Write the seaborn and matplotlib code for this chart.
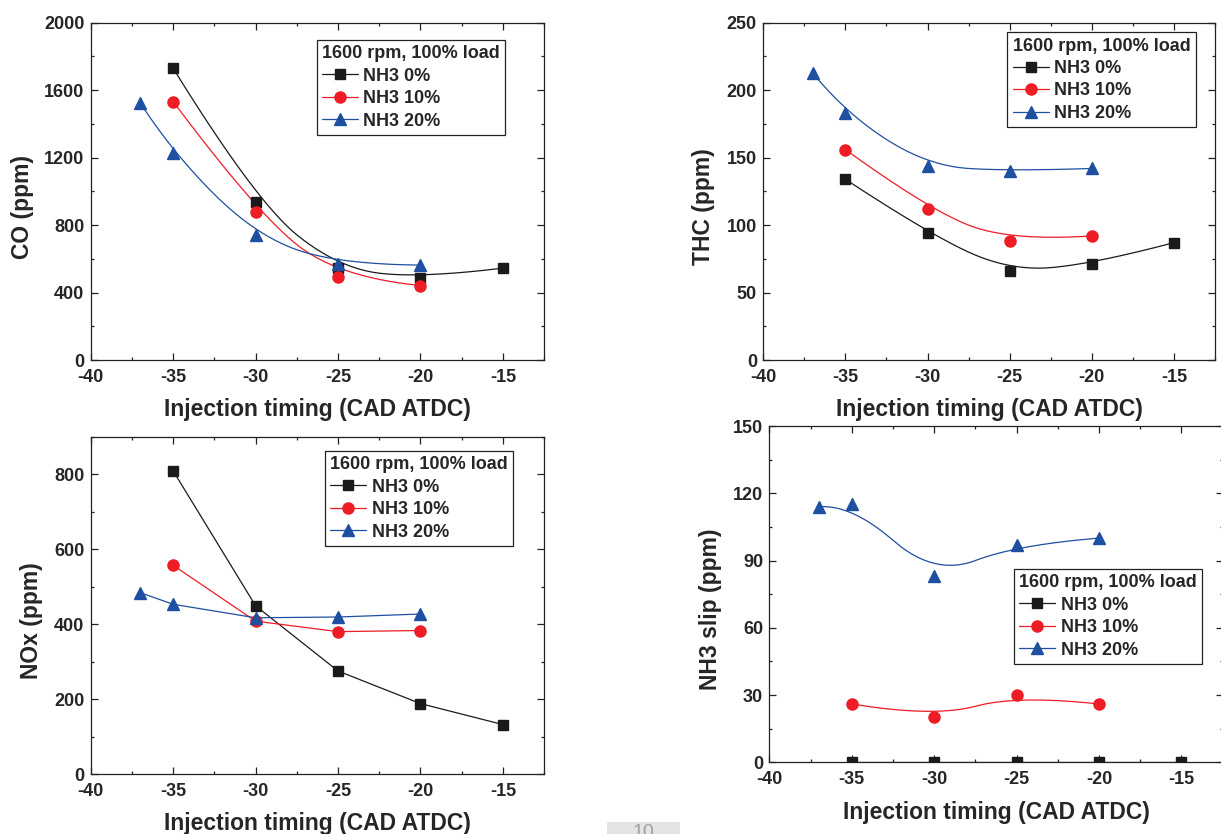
import numpy as np
import matplotlib
matplotlib.use("Agg")
import matplotlib.pyplot as plt
import matplotlib.font_manager as fm
from matplotlib.lines import Line2D
from matplotlib.patches import Rectangle
from matplotlib.ticker import MultipleLocator
import seaborn as sns

# injection timing (CAD ATDC) per series
x_0 = [-35, -30, -25, -20, -15]
x_10 = [-35, -30, -25, -20]
x_20 = [-37, -35, -30, -25, -20]

series_names = ["NH3 0%", "NH3 10%", "NH3 20%"]

co_0 = [1730, 940, 545, 485, 545]
co_10 = [1533, 879, 490, 442]
co_20 = [1525, 1225, 740, 568, 563]

thc_0 = [134, 94, 66, 71, 87]
thc_10 = [156, 112, 88, 92]
thc_20 = [213, 183, 144, 140, 142]

nox_0 = [809, 449, 275, 188, 132]
nox_10 = [557, 408, 380, 383]
nox_20 = [484, 453, 417, 419, 427]

slip_0 = [0, 0, 0, 0, 0]
slip_10 = [26, 20, 30, 26]
slip_20 = [114, 115, 83, 97, 100]

legend_title = "1600 rpm, 100% load"
x_label = "Injection timing (CAD ATDC)"

colors = ["#1a1a1a", "#ee1c25", "#1f4fa0"]
markers = ["s", "o", "^"]
msizes = [7.2, 8.0, 9.0]


def bspline(xs, ys, k=2, n=300):
    # clamped uniform B-spline using the data points as control points
    P = np.column_stack([xs, ys]).astype(float)
    m = len(P)
    k = min(k, m - 1)
    t = np.concatenate([np.zeros(k), np.linspace(0, 1, m - k + 1), np.ones(k)])
    u = np.linspace(0, 1, n)
    N = np.zeros((n, len(t) - 1))
    for i in range(len(t) - 1):
        N[:, i] = (u >= t[i]) & (u < t[i + 1])
    last = np.max(np.nonzero(t[:-1] < t[1:])[0])
    N[-1, :] = 0
    N[-1, last] = 1
    for d in range(1, k + 1):
        Nn = np.zeros((n, len(t) - 1 - d))
        for i in range(len(t) - 1 - d):
            den1 = t[i + d] - t[i]
            den2 = t[i + d + 1] - t[i + 1]
            term = np.zeros(n)
            if den1 > 0:
                term += (u - t[i]) / den1 * N[:, i]
            if den2 > 0:
                term += (t[i + d + 1] - u) / den2 * N[:, i + 1]
            Nn[:, i] = term
        N = Nn
    C = N @ P
    return C[:, 0], C[:, 1]


sns.set_style("ticks")
plt.rcParams["font.family"] = ["Liberation Sans", "DejaVu Sans"]
plt.rcParams["font.weight"] = "bold"
plt.rcParams["axes.unicode_minus"] = False

narrow = any(f.name == "Liberation Sans Narrow" for f in fm.fontManager.ttflist)
if narrow:
    label_font = dict(family=["Liberation Sans Narrow", "Liberation Sans"], size=20, weight="bold")
else:
    label_font = dict(family=["Liberation Sans", "DejaVu Sans"], size=16.5, weight="bold")

fig = plt.figure(figsize=(12.21, 8.34), dpi=100)

panels = [
    dict(rect=[0.0743, 0.5683, 0.3713, 0.4044], ylabel="CO (ppm)", ylim=(0, 2000),
         major=400, minor=200, data=[co_0, co_10, co_20], smooth=True,
         leg=(0.914, 0.949), ylx=-0.150),
    dict(rect=[0.6251, 0.5683, 0.3700, 0.4044], ylabel="THC (ppm)", ylim=(0, 250),
         major=50, minor=25, data=[thc_0, thc_10, thc_20], smooth=True,
         leg=(0.958, 0.972), ylx=-0.132),
    dict(rect=[0.0743, 0.0719, 0.3713, 0.4044], ylabel="NOx (ppm)", ylim=(0, 900),
         major=200, minor=100, data=[nox_0, nox_10, nox_20], smooth=False,
         leg=(0.932, 0.958), ylx=-0.131),
    dict(rect=[0.6301, 0.0860, 0.3713, 0.4032], ylabel="NH3 slip (ppm)", ylim=(0, 150),
         major=30, minor=15, data=[slip_0, slip_10, slip_20], smooth=True,
         leg=(0.955, 0.575), ylx=-0.129),
]

xs_all = [x_0, x_10, x_20]

for p in panels:
    ax = fig.add_axes(p["rect"])
    for i, ys in enumerate(p["data"]):
        xs = xs_all[i]
        if p["smooth"]:
            cx, cy = bspline(xs, ys)
        else:
            cx, cy = np.array(xs, float), np.array(ys, float)
        sns.lineplot(x=cx, y=cy, ax=ax, color=colors[i], lw=0.9, sort=False,
                     estimator=None, zorder=2)
        ax.plot(xs, ys, linestyle="none", marker=markers[i], ms=msizes[i],
                color=colors[i], mec=colors[i], zorder=3)

    ax.set_xlim(-40, -12.5)
    ax.set_ylim(*p["ylim"])
    ax.xaxis.set_major_locator(MultipleLocator(5))
    ax.xaxis.set_minor_locator(MultipleLocator(2.5))
    ax.yaxis.set_major_locator(MultipleLocator(p["major"]))
    ax.yaxis.set_minor_locator(MultipleLocator(p["minor"]))
    ax.tick_params(which="both", direction="in", top=True, right=True,
                   color="#222222", width=0.9)
    ax.tick_params(which="major", length=5)
    ax.tick_params(which="minor", length=2.5)
    ax.tick_params(axis="x", which="major", pad=6.5, labelsize=13)
    ax.tick_params(axis="y", which="major", pad=4.5, labelsize=13)
    for lab in ax.get_xticklabels() + ax.get_yticklabels():
        lab.set_fontweight("bold")
    for sp in ax.spines.values():
        sp.set_linewidth(0.9)
        sp.set_color("#222222")

    ax.set_xlabel(x_label, fontdict=label_font)
    ax.xaxis.label.set_va("center")
    ax.xaxis.set_label_coords(0.5, -0.148)
    ax.set_ylabel(p["ylabel"], fontdict=label_font)
    ax.yaxis.label.set_va("center")
    ax.yaxis.set_label_coords(p["ylx"], 0.455)

    handles = [Line2D([], [], color=colors[i], marker=markers[i], ms=msizes[i],
                      lw=0.9, label=series_names[i]) for i in range(3)]
    leg = ax.legend(handles=handles, title=legend_title, loc="upper right",
                    bbox_to_anchor=p["leg"], borderaxespad=0, fancybox=False,
                    framealpha=1, edgecolor="#222222", handlelength=2.0,
                    handletextpad=0.3, labelspacing=0.3, borderpad=0.3,
                    prop=dict(size=13, weight="bold"),
                    title_fontproperties=dict(size=13, weight="bold"),
                    alignment="left")
    leg.get_frame().set_linewidth(0.9)

# page number strip at the bottom edge
fig.patches.append(Rectangle((607 / 1221, 0), 73 / 1221, 12 / 834,
                             transform=fig.transFigure, facecolor="#e4e4e4",
                             edgecolor="none"))
fig.text(643 / 1221, 1 - 824 / 834, "10", color="#a0a0a0", fontsize=14,
         fontweight="normal", ha="center", va="top")

fig.savefig("out.png", dpi=100)
